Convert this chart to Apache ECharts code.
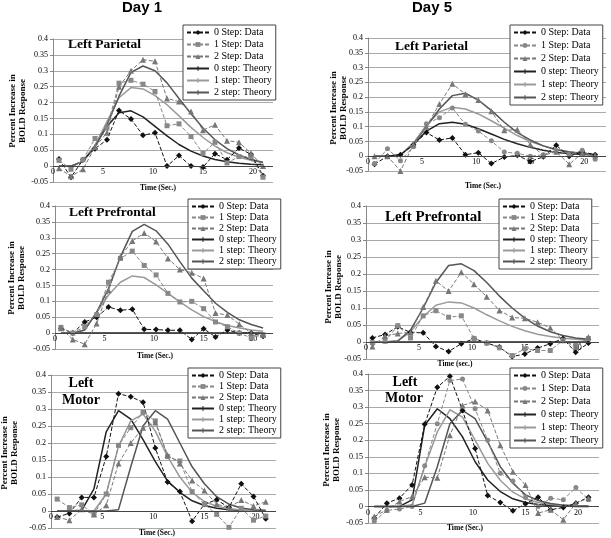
<!DOCTYPE html>
<html><head><meta charset="utf-8">
<script src="https://cdn.jsdelivr.net/npm/echarts/dist/echarts.min.js"></script>
<style>html,body{margin:0;padding:0;background:#fff}#c{width:611px;height:538px}</style>
</head><body><div id="c"></div><script>
// ---- data ----
const time = [0.6,1.8,3.0,4.2,5.4,6.6,7.8,9.0,10.2,11.4,12.6,13.8,15.0,16.2,17.4,18.6,19.8,21.0];
const seriesNames = ['0 Step: Data','1 Step: Data','2 Step: Data','0 step: Theory','1 step: Theory','2 step: Theory'];
const yTicks = [-0.05,0,0.05,0.1,0.15,0.2,0.25,0.3,0.35,0.4];
const xTicks = [0,5,10,15,20];

// Day 1 - Left Parietal
const d1ParD0 = [0.022,-0.035,0.02,0.055,0.083,0.175,0.148,0.097,0.105,0.0,0.033,0.0,-0.003,0.039,0.02,0.057,0.037,-0.03];
const d1ParD1 = [0.018,-0.01,0.02,0.087,0.12,0.261,0.27,0.258,0.235,0.127,0.133,0.093,0.04,0.075,0.01,0.03,0.03,-0.035];
const d1ParD2 = [-0.007,-0.032,-0.01,0.06,0.105,0.25,0.3,0.335,0.33,0.213,0.203,0.172,0.113,0.13,0.08,0.075,0.04,0.0];
const d1ParT0 = [0,0,0.015,0.065,0.125,0.168,0.174,0.155,0.125,0.095,0.068,0.047,0.032,0.021,0.014,0.009,0.006,0.004];
const d1ParT1 = [0,0,0.015,0.065,0.14,0.215,0.247,0.243,0.222,0.193,0.158,0.122,0.09,0.063,0.042,0.028,0.018,0.011];
const d1ParT2 = [0,0,0.015,0.06,0.13,0.22,0.295,0.315,0.3,0.262,0.213,0.165,0.12,0.083,0.055,0.035,0.021,0.012];
// Day 5 - Left Parietal
const d5ParD0 = [-0.027,0.0,0.005,0.039,0.08,0.055,0.062,0.005,0.012,-0.025,-0.003,0.003,-0.018,-0.002,0.037,0.0,0.015,0.005];
const d5ParD1 = [-0.025,0.025,-0.015,0.032,0.11,0.13,0.163,0.108,0.085,0.052,0.014,0.01,0.0,0.005,0.02,0.005,0.02,-0.01];
const d5ParD2 = [0.0,0.0,-0.05,0.04,0.1,0.177,0.245,0.21,0.19,0.152,0.088,0.09,0.04,0.003,0.015,-0.027,0.01,0.003];
const d5ParT0 = [0,0,0.005,0.04,0.085,0.11,0.115,0.108,0.093,0.075,0.057,0.042,0.03,0.02,0.013,0.009,0.006,0.004];
const d5ParT1 = [0,0,0.005,0.045,0.105,0.15,0.166,0.16,0.143,0.12,0.095,0.07,0.05,0.035,0.023,0.015,0.01,0.006];
const d5ParT2 = [0,0,0.005,0.04,0.1,0.16,0.205,0.213,0.19,0.155,0.115,0.08,0.055,0.035,0.022,0.014,0.009,0.005];
// Day 1 - Left Prefrontal
const d1PreD0 = [0.015,0.0,0.035,0.05,0.082,0.072,0.075,0.012,0.011,0.009,0.009,-0.02,0.014,-0.012,0.01,0.0,0.0,-0.01];
const d1PreD1 = [0.018,0.0,0.02,0.058,0.16,0.235,0.258,0.213,0.183,0.125,0.098,0.1,0.077,0.035,0.02,0.0,-0.015,-0.005];
const d1PreD2 = [0.015,-0.02,-0.035,0.03,0.135,0.24,0.29,0.315,0.288,0.235,0.2,0.19,0.172,0.063,0.057,0.028,0.0,-0.005];
const d1PreT0 = [0,0,0,0,0,0,0,0,0,0,0,0,0,0,0,0,0,0];
const d1PreT1 = [0,0,0.01,0.065,0.12,0.16,0.18,0.175,0.152,0.125,0.098,0.073,0.052,0.036,0.024,0.016,0.01,0.006];
const d1PreT2 = [0,0,0.01,0.065,0.14,0.24,0.32,0.342,0.322,0.28,0.225,0.173,0.133,0.094,0.065,0.042,0.027,0.016];
// Day 5 - Left Prefrontal
const d5PreD0 = [0.012,0.022,0.045,0.028,0.027,-0.013,-0.028,-0.005,0.01,-0.003,-0.015,-0.043,-0.035,-0.018,-0.005,0.01,-0.03,-0.003];
const d5PreD1 = [-0.002,0.002,0.048,0.012,0.077,0.092,0.073,0.077,0.01,-0.003,-0.017,-0.04,-0.02,-0.025,-0.025,0.005,-0.01,0.01];
const d5PreD2 = [-0.013,0.018,0.025,0.028,0.103,0.18,0.15,0.205,0.17,0.133,0.093,0.072,0.07,0.058,0.042,0.005,-0.015,0.015];
const d5PreT0 = [0,0,0,0,0,0,0,0,0,0,0,0,0,0,0,0,0,0];
const d5PreT1 = [0,0,0.003,0.03,0.075,0.108,0.118,0.115,0.1,0.08,0.062,0.046,0.033,0.023,0.016,0.011,0.008,0.005];
const d5PreT2 = [0,0,0.003,0.035,0.1,0.175,0.225,0.23,0.21,0.175,0.135,0.1,0.07,0.047,0.03,0.019,0.012,0.008];
// Day 1 - Left Motor
const d1MotD0 = [-0.018,-0.007,0.04,0.04,0.16,0.345,0.336,0.32,0.185,0.085,0.057,-0.03,0.02,0.033,0.01,0.08,0.043,-0.023];
const d1MotD1 = [0.035,0.01,0.018,-0.01,0.05,0.193,0.245,0.29,0.265,0.16,0.147,0.057,0.02,-0.01,-0.048,0.008,-0.027,-0.015];
const d1MotD2 = [-0.018,-0.027,0.005,-0.01,0.017,0.14,0.2,0.245,0.26,0.165,0.14,0.09,0.06,0.02,0.01,0.032,0.015,0.027];
const d1MotT0 = [0,0,0.002,0.065,0.233,0.295,0.27,0.21,0.145,0.088,0.055,0.03,0.016,0.008,0.004,0.002,0.001,0];
const d1MotT1 = [0,0,0,0,0.05,0.19,0.265,0.285,0.235,0.16,0.1,0.055,0.028,0.014,0.007,0.003,0.001,0];
const d1MotT2 = [0,0,0,0,0,0.004,0.13,0.25,0.295,0.27,0.2,0.13,0.08,0.042,0.02,0.009,0.004,0.002];
// Day 5 - Left Motor
const d5MotD0 = [-0.035,0.01,0.025,0.065,0.248,0.36,0.393,0.29,0.175,0.033,0.012,-0.013,0.008,0.028,-0.01,-0.003,0.01,0.028];
const d5MotD1 = [-0.045,-0.012,-0.008,0.0,0.123,0.25,0.38,0.385,0.295,0.2,0.1,0.077,0.027,0.0,0.025,0.02,0.057,0.02];
const d5MotD2 = [-0.03,-0.01,0.015,0.03,0.088,0.087,0.215,0.305,0.317,0.29,0.185,0.105,0.065,-0.02,-0.01,-0.04,0.01,0.025];
const d5MotT0 = [0,0,0,0.02,0.245,0.295,0.265,0.21,0.135,0.08,0.045,0.023,0.012,0.006,0.003,0.001,0,0];
const d5MotT1 = [0,0,0,0.005,0.12,0.225,0.292,0.27,0.2,0.13,0.079,0.043,0.023,0.012,0.006,0.003,0.001,0];
const d5MotT2 = [0,0,0,0,0.01,0.12,0.25,0.29,0.265,0.195,0.12,0.07,0.035,0.018,0.009,0.004,0.002,0.001];

const panelData = [
  [d1ParD0,d1ParD1,d1ParD2,d1ParT0,d1ParT1,d1ParT2],
  [d5ParD0,d5ParD1,d5ParD2,d5ParT0,d5ParT1,d5ParT2],
  [d1PreD0,d1PreD1,d1PreD2,d1PreT0,d1PreT1,d1PreT2],
  [d5PreD0,d5PreD1,d5PreD2,d5PreT0,d5PreT1,d5PreT2],
  [d1MotD0,d1MotD1,d1MotD2,d1MotT0,d1MotT1,d1MotT2],
  [d5MotD0,d5MotD1,d5MotD2,d5MotT0,d5MotT1,d5MotT2]
];
const panelTitles = [['Left Parietal'],['Left Parietal'],['Left Prefrontal'],['Left Prefrontal'],['Left','Motor'],['Left','Motor']];
const xTitles = ['Time (Sec.)','Time (Sec.)','Time (Sec.)','Time (sec.)','Time (Sec.)','Time (Sec.)'];
const dayTitles = ['Day 1','Day 5'];

// ---- layout & style ----
const SERIF = '"Liberation Serif","Times New Roman",serif';
const layout = [
  {g:[53,39,220,143], lg:[183,25,1], t:[[68,45,'left',13.5]], yl:[18,111], xl:[158,188]},
  {g:[368,38,238,133], lg:[510,25,2], t:[[395,47,'left',13.5]], yl:[339,108], xl:[483,186]},
  {g:[55,206,218,143], lg:[188,199,0], t:[[69,213,'left',13.5]], yl:[17,278], xl:[155,356]},
  {g:[366,206,233,153], lg:[499,199,0], t:[[385,217,'left',15]], yl:[334,287], xl:[455,364]},
  {g:[51,375,225,153], lg:[188,368,0], t:[[81,383,'center',14],[81,400,'center',14]], yl:[10,453], xl:[157,533]},
  {g:[368,374,231,149], lg:[510,368,2], t:[[405,382,'center',14],[404,398,'center',14]], yl:[332,450], xl:[465,528]}
];
const sym1 = ['rect','circle','rect','rect','rect','circle'];
const PLUS = 'path://M2,0H3V2H5V3H3V5H2V3H0V2H2Z';
const styles = [
  {color:'#111', type:[4,2], w:1, symbol:'diamond', size:6, show:true},
  {color:'#888', type:[4,2], w:1, symbol:'rect', size:5, show:true},
  {color:'#777', type:[4,2], w:1, symbol:'triangle', size:6, show:true},
  {color:'#222', type:'solid', w:1.5, symbol:PLUS, size:4, show:false},
  {color:'#9a9a9a', type:'solid', w:1.5, symbol:PLUS, size:4, show:false},
  {color:'#555', type:'solid', w:1.5, symbol:PLUS, size:4, show:false}
];
const ZW = '\u200b';

const grids=[], xAxes=[], yAxes=[], legends=[], series=[], graphics=[];
layout.forEach((L,p)=>{
  const h = L.g[3];
  const zeroOffset = h * (0 - yTicks[0]) / (yTicks[yTicks.length-1] - yTicks[0]);
  grids.push({left:L.g[0], top:L.g[1], width:L.g[2], height:h, containLabel:false});
  xAxes.push({type:'value', gridIndex:p, min:xTicks[0], max:22, interval:5, position:'bottom',
    axisLine:{show:false, onZero:false},
    axisTick:{show:false},
    splitLine:{show:false},
    axisLabel:{fontFamily:SERIF, fontSize:8, color:'#000', margin:-zeroOffset+2,
      formatter:v=> xTicks.includes(v) ? String(v) : ''}});
  yAxes.push({type:'value', gridIndex:p, min:yTicks[0], max:yTicks[yTicks.length-1], interval:0.05,
    axisLine:{show:true, onZero:false, lineStyle:{color:'#888'}},
    axisTick:{show:true, length:3, lineStyle:{color:'#888'}},
    splitLine:{show:true, lineStyle:{color:'#aaa', width:1}},
    axisLabel:{fontFamily:SERIF, fontSize:8, color:'#000', margin:5,
      formatter:v=> String(+v.toFixed(2))}});
  const names = seriesNames.map(n=>n+ZW.repeat(p));
  legends.push({orient:'vertical', left:L.lg[0], top:L.lg[1], itemGap:L.lg[2],
    itemWidth:22, itemHeight:6, padding:[2,4,2,3], backgroundColor:'#fff',
    borderColor:'#444', borderWidth:1, selectedMode:false, z:10,
    textStyle:{fontFamily:SERIF, fontSize:10, color:'#000', lineHeight:11},
    data:names, formatter:n=>n.replace(/\u200b/g,'')});
  panelData[p].forEach((vals,k)=>{
    const st = styles[k];
    const sym = k===1 ? sym1[p] : st.symbol;
    const s = {type:'line', name:names[k], xAxisIndex:p, yAxisIndex:p,
      data: time.map((t,i)=>[t, vals[i]]),
      symbol: sym, symbolSize: st.size, showSymbol: st.show,
      lineStyle:{color:st.color, width:st.w, type:st.type},
      itemStyle:{color:st.color},
      emphasis:{disabled:true}, silent:true, z: k<3 ? 3 : 2};
    if (k===0) {
      s.markLine = {silent:true, symbol:'none', label:{show:false}, animation:false,
        lineStyle:{color:'#444', type:'solid', width:1}, data:[{yAxis:0}]};
    }
    series.push(s);
  });
  L.t.forEach((tt,j)=>{
    graphics.push({type:'text', x:tt[0], y:tt[1], z:20,
      style:{text:panelTitles[p][j], font:'bold '+tt[3]+'px '+SERIF, fill:'#000',
        align:tt[2], verticalAlign:'middle'}});
  });
  graphics.push({type:'text', x:L.yl[0], y:L.yl[1], rotation:Math.PI/2, z:20,
    style:{text:'Percent Increase in\nBOLD Response', font:'bold 9px '+SERIF, fill:'#000',
      align:'center', verticalAlign:'middle', lineHeight:10}});
  graphics.push({type:'text', x:L.xl[0], y:L.xl[1], z:20,
    style:{text:xTitles[p], font:'bold 7.5px '+SERIF, fill:'#000', align:'center', verticalAlign:'middle'}});
});
graphics.push({type:'text', x:142, y:8, style:{text:dayTitles[0], font:'bold 15px "Liberation Sans",Arial,sans-serif', fill:'#000', align:'center', verticalAlign:'middle'}});
graphics.push({type:'text', x:432, y:8, style:{text:dayTitles[1], font:'bold 15px "Liberation Sans",Arial,sans-serif', fill:'#000', align:'center', verticalAlign:'middle'}});

const chart = echarts.init(document.getElementById('c'), null, {renderer:'canvas'});
chart.setOption({animation:false, backgroundColor:'#fff', grid:grids, xAxis:xAxes, yAxis:yAxes,
  legend:legends, series:series, graphic:graphics});
</script></body></html>
